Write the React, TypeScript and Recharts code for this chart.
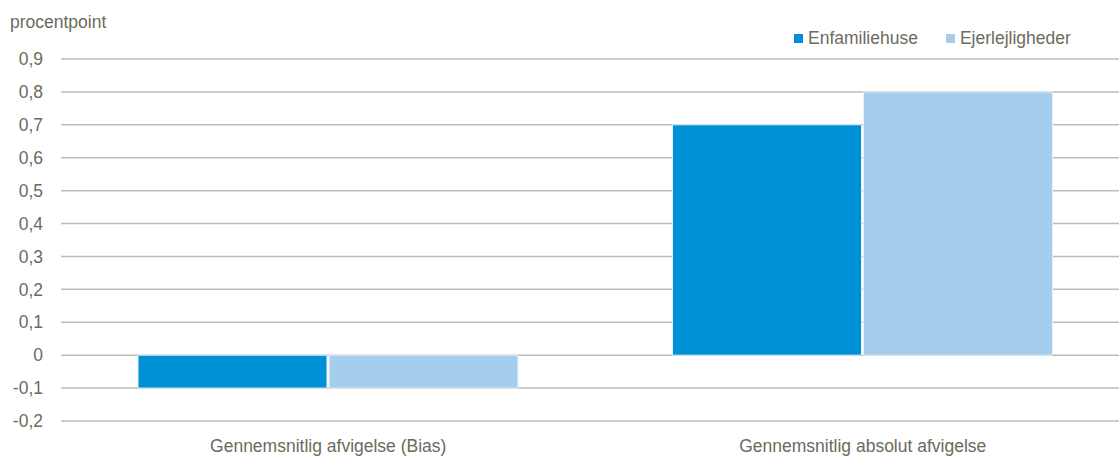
import { BarChart, Bar, XAxis, YAxis, CartesianGrid } from "recharts";

const categories = ["Gennemsnitlig afvigelse (Bias)", "Gennemsnitlig absolut afvigelse"];
const seriesNames = ["Enfamiliehuse", "Ejerlejligheder"];
const enfamiliehuse = [-0.1, 0.7];
const ejerlejligheder = [-0.1, 0.8];
const yTicks = [-0.2, -0.1, 0, 0.1, 0.2, 0.3, 0.4, 0.5, 0.6, 0.7, 0.8, 0.9];

const COLORS = ["#0090d6", "#a5cdee"];
const TEXT = "#6b6b5c";
const GRID = "#bdbdb1";
const FONT = "'Liberation Sans', Arial, sans-serif";
const FS = 17.5;

const data = categories.map((name, i) => ({
  name,
  enfamiliehuse: enfamiliehuse[i],
  ejerlejligheder: ejerlejligheder[i],
}));

const fmt = (v: number) => (v === 0 ? "0" : v.toFixed(1).replace(".", ","));

export default function App() {
  return (
    <div style={{ position: "absolute", left: 0, top: 0, width: 1119, height: 456, overflow: "hidden", background: "#fff" }}>
      <div style={{ position: "absolute", left: 10, top: 12, fontFamily: FONT, fontSize: FS, color: TEXT }}>procentpoint</div>
      {/* legend */}
      <div style={{ position: "absolute", left: 794, top: 28, display: "flex", fontFamily: FONT, fontSize: FS, color: TEXT }}>
        {seriesNames.map((n, i) => (
          <div key={n} style={{ display: "flex", alignItems: "center", marginRight: 28 }}>
            <span style={{ display: "inline-block", width: 9, height: 9, background: COLORS[i], marginRight: 5 }} />
            {n}
          </div>
        ))}
      </div>
      <BarChart
        width={1130}
        height={456}
        data={data}
        margin={{ top: 59, right: 0, bottom: 0, left: 0 }}
        barCategoryGap={77}
        barGap={2}
      >
        <CartesianGrid vertical={false} stroke={GRID} strokeWidth={1.5} />
        <XAxis
          dataKey="name"
          height={35}
          axisLine={false}
          tickLine={false}
          tickSize={0}
          tickMargin={19}
          tick={{ fill: TEXT, fontSize: FS, fontFamily: FONT }}
        />
        <YAxis
          width={61}
          domain={[-0.2, 0.9]}
          ticks={yTicks}
          interval={0}
          axisLine={false}
          tickLine={false}
          tickSize={0}
          tickMargin={18}
          tickFormatter={fmt}
          tick={{ fill: TEXT, fontSize: FS, fontFamily: FONT }}
        />
        <Bar dataKey="enfamiliehuse" name={seriesNames[0]} fill={COLORS[0]} stroke="#e6f2fb" strokeWidth={1} isAnimationActive={false} />
        <Bar dataKey="ejerlejligheder" name={seriesNames[1]} fill={COLORS[1]} stroke="#e6f2fb" strokeWidth={1} isAnimationActive={false} />
      </BarChart>
    </div>
  );
}
